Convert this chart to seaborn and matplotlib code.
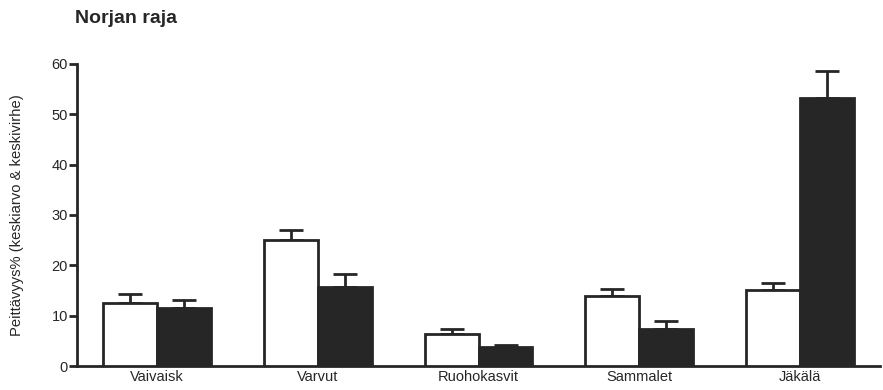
import matplotlib
matplotlib.use("Agg")
import matplotlib.pyplot as plt
import seaborn as sns
import pandas as pd
import numpy as np

# Cover (%) by plant group, two sites, with standard errors
categories = ["Vaivaisk", "Varvut", "Ruohokasvit", "Sammalet", "Jäkälä"]
groups = ["A", "B"]
mean_a = [12.5, 25.0, 6.4, 13.9, 15.1]
se_a = [1.8, 2.0, 1.0, 1.4, 1.4]
mean_b = [11.5, 15.7, 3.8, 7.4, 53.3]
se_b = [1.6, 2.6, 0.4, 1.5, 5.3]
yticks = [0, 10, 20, 30, 40, 50, 60]

df = pd.DataFrame({
    "kategoria": categories * 2,
    "ryhmä": [groups[0]] * len(categories) + [groups[1]] * len(categories),
    "arvo": mean_a + mean_b,
    "se": se_a + se_b,
})

sns.set_theme(style="white")
plt.rcParams["font.family"] = ["Liberation Sans", "DejaVu Sans"]

ink = "#262626"
fig = plt.figure(figsize=(8.83, 3.9), dpi=100)
ax = fig.add_axes([0.087, 0.0615, 0.91, 0.7745])

sns.barplot(data=df, x="kategoria", y="arvo", hue="ryhmä", order=categories,
            hue_order=groups, palette={"A": "white", "B": ink}, width=0.67,
            errorbar=None, edgecolor=ink, linewidth=2.0, legend=False,
            ax=ax, zorder=3)

# upward-only error bars at the bar centres
for patches, grp in zip(ax.containers, groups):
    sub = df[df["ryhmä"] == grp].set_index("kategoria").loc[categories]
    xs = [p.get_x() + p.get_width() / 2 for p in patches]
    ax.errorbar(xs, sub["arvo"].values,
                yerr=[np.zeros(len(xs)), sub["se"].values],
                fmt="none", ecolor=ink, elinewidth=2.0, capsize=8.5,
                capthick=2.0, zorder=2)

ax.set_ylim(0, 60)
ax.set_xlim(-0.5, 4.5)
ax.set_yticks(yticks)
ax.set_yticklabels([str(t) for t in yticks], fontsize=10.5, color=ink)
ax.tick_params(axis="y", which="major", left=True, length=5.5, width=2,
               color=ink, pad=1)
ax.tick_params(axis="x", length=0, pad=3, labelsize=10.5, labelcolor=ink)
ax.set_xlabel("")
ax.set_ylabel("Peittävyys% (keskiarvo & keskivirhe)", fontsize=10.6,
              color=ink, labelpad=20)
for side in ["top", "right"]:
    ax.spines[side].set_visible(False)
for side in ["left", "bottom"]:
    ax.spines[side].set_linewidth(2)
    ax.spines[side].set_color(ink)

fig.text(0.085, 0.952, "Norjan raja", fontsize=14, fontweight="bold",
         color=ink, ha="left", va="center")

fig.savefig("out.png", dpi=100)
